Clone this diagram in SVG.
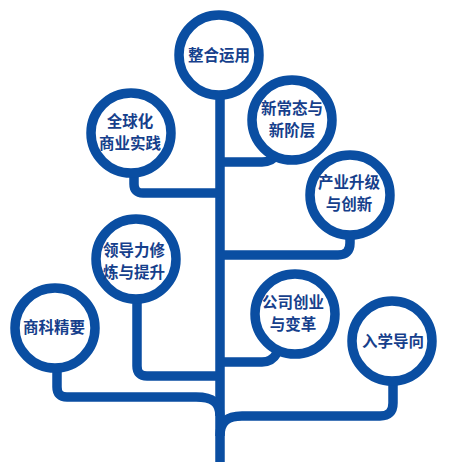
<svg xmlns="http://www.w3.org/2000/svg" width="449" height="462" viewBox="0 0 449 462">
<style>
.ring{fill:#ffffff;stroke:#0a4ea2;stroke-width:9.5}
.wire{fill:none;stroke:#0a4ea2;stroke-width:9.5;stroke-linecap:butt;stroke-linejoin:round}
.lbl{font-family:"Noto Sans CJK SC","Noto Sans",sans-serif;font-weight:bold;font-size:15.5px;fill:#163f8c;text-anchor:middle}
</style>
<rect width="449" height="462" fill="#ffffff"/>
<g id="connectors">
<path class="wire" d="M220,95 V462"/>
<path class="wire" d="M134,172 V184 Q134,193 143,193 H220"/>
<path class="wire" d="M220,162 H262 Q272,162 277,154"/>
<path class="wire" d="M350,236 V243 Q350,255 338,255 H220"/>
<path class="wire" d="M137,298 V366 Q137,376 147,376 H220"/>
<path class="wire" d="M57,370 V387 Q57,397 67,397 H196 C212,397 220,402 220,416"/>
<path class="wire" d="M220,362 H262 Q272,362 277,353"/>
<path class="wire" d="M393,382 V403 Q393,416 380,416 H242 C228,416 220,421 220,436"/>
</g>
<g id="n1"><circle class="ring" cx="219" cy="55" r="40"/><text class="lbl" x="219" y="61">整合运用</text></g>
<g id="n2"><circle class="ring" cx="131" cy="133" r="40"/><text class="lbl" x="130" y="127">全球化</text><text class="lbl" x="130" y="149">商业实践</text></g>
<g id="n3"><circle class="ring" cx="292" cy="120" r="40"/><text class="lbl" x="292" y="114">新常态与</text><text class="lbl" x="292" y="136">新阶层</text></g>
<g id="n4"><circle class="ring" cx="350" cy="195" r="40"/><text class="lbl" x="349" y="188">产业升级</text><text class="lbl" x="349" y="210">与创新</text></g>
<g id="n5"><circle class="ring" cx="136" cy="259" r="40"/><text class="lbl" x="134" y="256">领导力修</text><text class="lbl" x="134" y="278">炼与提升</text></g>
<g id="n6"><circle class="ring" cx="55" cy="328" r="40"/><text class="lbl" x="54" y="333">商科精要</text></g>
<g id="n7"><circle class="ring" cx="295" cy="314" r="40"/><text class="lbl" x="293" y="308">公司创业</text><text class="lbl" x="293" y="330">与变革</text></g>
<g id="n8"><circle class="ring" cx="392" cy="341" r="40"/><text class="lbl" x="393" y="347">入学导向</text></g>
</svg>
